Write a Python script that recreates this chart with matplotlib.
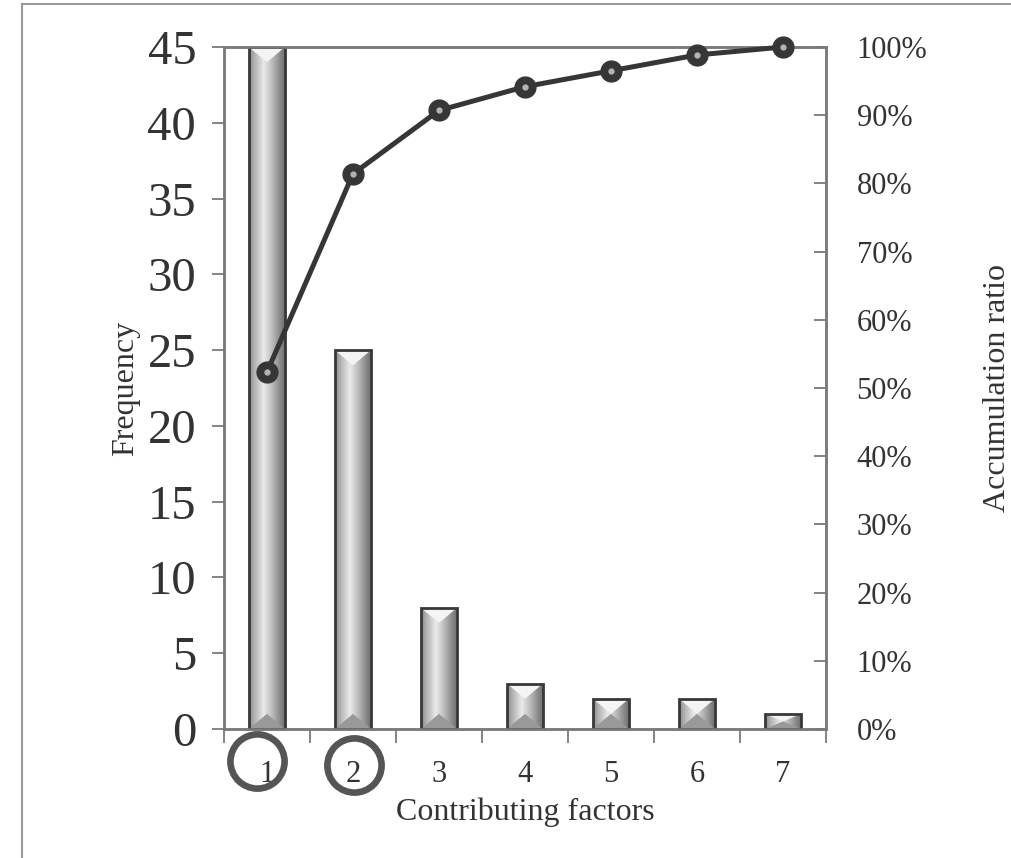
import numpy as np
import matplotlib
matplotlib.use("Agg")
import matplotlib.pyplot as plt
import matplotlib.transforms as mtransforms
from matplotlib.patches import Rectangle, Polygon
from matplotlib.colors import LinearSegmentedColormap

# Pareto data: frequency per contributing factor
factors = ['1', '2', '3', '4', '5', '6', '7']
freq = [45, 25, 8, 3, 2, 2, 1]
freq_ticks = [0, 5, 10, 15, 20, 25, 30, 35, 40, 45]
ratio_ticks = [0.0, 0.1, 0.2, 0.3, 0.4, 0.5, 0.6, 0.7, 0.8, 0.9, 1.0]
circled = ['1', '2']

plt.rcParams['font.family'] = ['Liberation Serif', 'DejaVu Serif']
text_color = '#333333'
spine_color = '#7a7a7a'

x = np.arange(1, len(factors) + 1)
cum_ratio = np.cumsum(freq) / np.sum(freq)

fig = plt.figure(figsize=(10.12, 8.58), dpi=100)
ax = fig.add_axes([0.2213, 0.1503, 0.5949, 0.7949])

# beveled bars: gradient body + light top facet + dark bottom facet
body_cmap = LinearSegmentedColormap.from_list('body', [
    (0.0, '#8a8a8a'), (0.15, '#b2b2b2'), (0.4, '#eaeaea'),
    (0.6, '#c2c2c2'), (0.85, '#888888'), (1.0, '#6a6a6a')])
grad = np.linspace(0, 1, 256).reshape(1, -1)
w = 0.42
for xi, h in zip(x, freq):
    x0 = xi - w / 2
    clip = Rectangle((x0, 0), w, h, transform=ax.transData)
    im = ax.imshow(grad, cmap=body_cmap, extent=[x0, x0 + w, 0, h],
                   aspect='auto', zorder=2, interpolation='bilinear')
    im.set_clip_path(clip)
    d = min(1.0, h / 2)
    ax.add_patch(Polygon([(x0, h), (x0 + w, h), (xi, h - d)], closed=True,
                         fc='#f4f4f4', ec='none', zorder=3))
    ax.add_patch(Polygon([(x0, 0), (x0 + w, 0), (xi, d)], closed=True,
                         fc='#999999', ec='none', zorder=3))
    ax.add_patch(Rectangle((x0, 0), w, h, fill=False, ec='#383838',
                           lw=2, zorder=4))

ax.set_xlim(0.5, len(factors) + 0.5)
ax.set_ylim(0, 45)
ax.set_yticks(freq_ticks)
ax.set_xticks(x, factors)
ax.set_xticks(np.arange(0.5, len(factors) + 1), minor=True)
ax.tick_params(axis='y', direction='out', length=9, width=1.3,
               color=spine_color, labelsize=35, labelcolor=text_color, pad=11)
ax.tick_params(axis='x', which='major', length=0, labelsize=22,
               labelcolor=text_color, pad=22)
ax.tick_params(axis='x', which='minor', direction='out', length=10,
               width=1.3, color=spine_color)

ax.set_ylabel('Frequency', fontsize=23, color=text_color)
ax.yaxis.set_label_coords(-0.14, 0.5)
ax.set_xlabel('Contributing factors', fontsize=23, color=text_color)
ax.xaxis.set_label_coords(0.5, -0.1)

# cumulative ratio on the right axis
ax2 = ax.twinx()
ax2.set_ylim(0, 1)
ax2.plot(x, cum_ratio, color='#363636', lw=3.6, marker='o', ms=15,
         mfc='#363636', mec='#363636', clip_on=False, zorder=5)
ax2.plot(x, cum_ratio, linestyle='none', marker='o', ms=3.5,
         color='#b4b4b4', clip_on=False, zorder=6)
ax2.set_yticks(ratio_ticks, [f'{int(round(t * 100))}%' for t in ratio_ticks])
ax2.tick_params(axis='y', direction='in', length=9, width=1.3,
                color=spine_color, labelsize=22, labelcolor=text_color, pad=22)
ax2.set_ylabel('Accumulation ratio', fontsize=23, color=text_color)
ax2.yaxis.set_label_coords(1.26, 0.5)

for a in (ax, ax2):
    for s in a.spines.values():
        s.set_color(spine_color)
        s.set_linewidth(1.8)

# rings around the dominant factors
ring_tr = mtransforms.blended_transform_factory(ax.transData, ax.transAxes)
ring_pos = {'1': (-0.116, -0.047), '2': (0.01, -0.053)}
for lab in circled:
    dx, yy = ring_pos[lab]
    xi = factors.index(lab) + 1
    ax.plot([xi + dx], [yy], marker='o', ms=39, mfc='none', mec='#555555',
            mew=4.8, transform=ring_tr, clip_on=False, zorder=10)

# outer frame
fig.add_artist(Rectangle((22 / 1012, -0.1), 1.2, 1 - 4 / 858 + 0.1,
                         transform=fig.transFigure, fill=False,
                         ec='#9a9a9a', lw=1.5))

fig.savefig('out.png', dpi=100)
